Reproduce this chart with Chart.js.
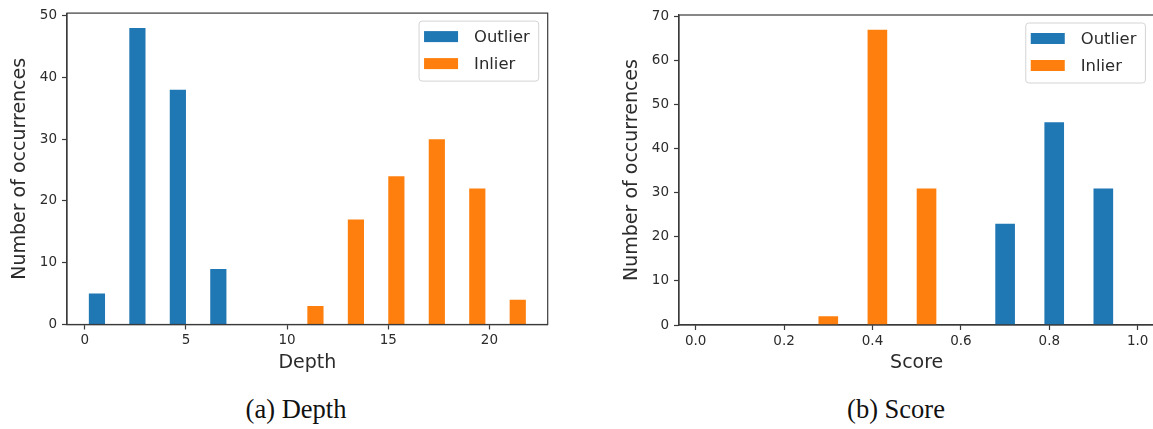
<!DOCTYPE html>
<html>
<head>
<meta charset="utf-8">
<script src="https://cdn.jsdelivr.net/npm/chart.js@4.4.1/dist/chart.umd.min.js"></script>
<style>
  html, body { margin: 0; padding: 0; background: #fff; width: 1153px; height: 429px; overflow: hidden; position: relative; }
  canvas { position: absolute; top: 0; }
  #depthChart { left: 0; }
  #scoreChart { left: 612px; }
  .caption {
    position: absolute; top: 395px; line-height: 29px;
    font-family: "Liberation Serif", "DejaVu Serif", serif; font-size: 26.5px;
    color: #111; white-space: nowrap; transform: translateX(-50%);
  }
</style>
</head>
<body>
<canvas id="depthChart" width="575" height="380"></canvas>
<canvas id="scoreChart" width="560" height="380"></canvas>
<div class="caption" style="left:296px">(a) Depth</div>
<div class="caption" style="left:896px">(b) Score</div>
<script>
// Series names and colours
const seriesNames = ['Outlier', 'Inlier'];
const seriesColors = ['#1f77b4', '#ff7f0e'];

// Depth histogram: 11 bins of width 2 over [0, 22]
const depthBinEdges = [0, 2, 4, 6, 8, 10, 12, 14, 16, 18, 20, 22];
const depthOutlier = [5, 48, 38, 9, 0, 0, 0, 0, 0, 0, 0];
const depthInlier  = [0, 0, 0, 0, 0, 3, 17, 24, 30, 22, 4];
const depthTicks = [0, 5, 10, 15, 20];
const depthTickLabels = ['0', '5', '10', '15', '20'];
const depthCountTicks = [0, 10, 20, 30, 40, 50];

// Score histogram: 9 bins over [0, 1]
const scoreBinEdges = [0, 0.1111, 0.2222, 0.3333, 0.4444, 0.5556, 0.6667, 0.7778, 0.8889, 1.0];
const scoreOutlier = [0, 0, 0, 0, 0, 0, 23, 46, 31];
const scoreInlier  = [0, 0, 2, 67, 31, 0, 0, 0, 0];
const scoreTicks = [0, 0.2, 0.4, 0.6, 0.8, 1.0];
const scoreTickLabels = ['0.0', '0.2', '0.4', '0.6', '0.8', '1.0'];
const scoreCountTicks = [0, 10, 20, 30, 40, 50, 60, 70];

const countLabel = 'Number of occurrences';
const inkColor = '#2b2b2b';
const spineColor = '#3a3a3a';

// Frame around the plotting area (top and right spines included)
const framePlugin = {
  id: 'frame',
  afterDatasetsDraw(chart) {
    const { ctx, chartArea: a } = chart;
    ctx.save();
    ctx.strokeStyle = spineColor;
    ctx.lineWidth = 1.2;
    ctx.strokeRect(a.left, a.top, a.right - a.left, a.bottom - a.top);
    ctx.restore();
  }
};

// Boxed legend in the upper-right corner of the plotting area
const boxLegendPlugin = {
  id: 'boxLegend',
  afterDraw(chart) {
    const { ctx, chartArea: a } = chart;
    const sets = chart.data.datasets;
    ctx.save();
    ctx.font = '16.4px "DejaVu Sans", sans-serif';
    let textW = 0;
    sets.forEach(ds => { textW = Math.max(textW, ctx.measureText(ds.label).width); });
    const w = 55 + textW + 9;
    const h = 60;
    const x = a.right - 9 - w;
    const y = a.top + 8;
    ctx.beginPath();
    ctx.roundRect(x, y, w, h, 3);
    ctx.fillStyle = 'rgba(255,255,255,0.85)';
    ctx.fill();
    ctx.strokeStyle = '#d4d4d4';
    ctx.lineWidth = 1;
    ctx.stroke();
    sets.forEach((ds, i) => {
      const cy = y + 15.5 + i * 27;
      ctx.fillStyle = ds.backgroundColor;
      ctx.fillRect(x + 5, cy - 5.5, 34, 11);
      ctx.fillStyle = inkColor;
      ctx.textBaseline = 'middle';
      ctx.textAlign = 'left';
      ctx.fillText(ds.label, x + 55, cy + 1);
    });
    ctx.restore();
  }
};

function binCenters(edges) {
  return edges.slice(0, -1).map((e, i) => (e + edges[i + 1]) / 2);
}

function makeHistogram(canvasId, cfg) {
  const centers = binCenters(cfg.edges);
  const binW = cfg.edges[1] - cfg.edges[0];
  // axis limits follow the bar extents with a 5% margin
  const lo = cfg.edges[0] + 0.1 * binW;
  const hi = cfg.edges[cfg.edges.length - 1] - 0.1 * binW;
  const pad = 0.05 * (hi - lo);
  const yMax = Math.max(...cfg.outlier, ...cfg.inlier) * 1.05;

  return new Chart(document.getElementById(canvasId), {
    type: 'bar',
    data: {
      datasets: [
        { label: seriesNames[0], data: centers.map((c, i) => ({ x: c, y: cfg.outlier[i] })), backgroundColor: seriesColors[0] },
        { label: seriesNames[1], data: centers.map((c, i) => ({ x: c, y: cfg.inlier[i] })), backgroundColor: seriesColors[1] }
      ]
    },
    options: {
      responsive: false,
      animation: false,
      devicePixelRatio: 1,
      categoryPercentage: 0.8,
      barPercentage: 1.0,
      borderWidth: 0,
      layout: { padding: { left: 0, top: cfg.top, right: cfg.right, bottom: 0 } },
      plugins: { legend: { display: false }, tooltip: { enabled: false } },
      scales: {
        x: {
          type: 'linear',
          offset: false,
          min: lo - pad,
          max: hi + pad,
          afterBuildTicks: s => { s.ticks = cfg.xTicks.map(v => ({ value: v })); },
          afterFit: s => { s.height = 380 - cfg.bottom; },
          ticks: {
            autoSkip: false, maxRotation: 0, padding: 3,
            color: inkColor, font: { family: 'DejaVu Sans', size: 13.5 },
            callback: (v, i) => cfg.xTickLabels[i]
          },
          grid: { offset: false, drawOnChartArea: false, drawTicks: true, tickLength: 5, tickWidth: 1.2, tickColor: spineColor },
          border: { display: true, color: spineColor, width: 1.2 },
          title: {
            display: true, text: cfg.xTitle, color: inkColor,
            font: { family: 'DejaVu Sans', size: 19 }, padding: { top: 0, bottom: 6 }
          }
        },
        y: {
          min: 0,
          max: yMax,
          afterBuildTicks: s => { s.ticks = cfg.yTicks.map(v => ({ value: v })); },
          afterFit: s => { s.width = 67; },
          ticks: {
            padding: 5, color: inkColor, font: { family: 'DejaVu Sans', size: 13.5 },
            callback: v => String(v)
          },
          grid: { drawOnChartArea: false, drawTicks: true, tickLength: 5, tickWidth: 1.2, tickColor: spineColor },
          border: { display: true, color: spineColor, width: 1.2 },
          title: {
            display: true, text: countLabel, color: inkColor,
            font: { family: 'DejaVu Sans', size: 19 }, padding: { top: 9, bottom: 0 }
          }
        }
      }
    },
    plugins: [framePlugin, boxLegendPlugin]
  });
}

makeHistogram('depthChart', {
  edges: depthBinEdges, outlier: depthOutlier, inlier: depthInlier,
  xTicks: depthTicks, xTickLabels: depthTickLabels, yTicks: depthCountTicks,
  xTitle: 'Depth', top: 12.5, right: 575 - 547.7, bottom: 324.5
});

makeHistogram('scoreChart', {
  edges: scoreBinEdges, outlier: scoreOutlier, inlier: scoreInlier,
  xTicks: scoreTicks, xTickLabels: scoreTickLabels, yTicks: scoreCountTicks,
  xTitle: 'Score', top: 15, right: 560 - 542.4, bottom: 325
});
</script>
</body>
</html>
